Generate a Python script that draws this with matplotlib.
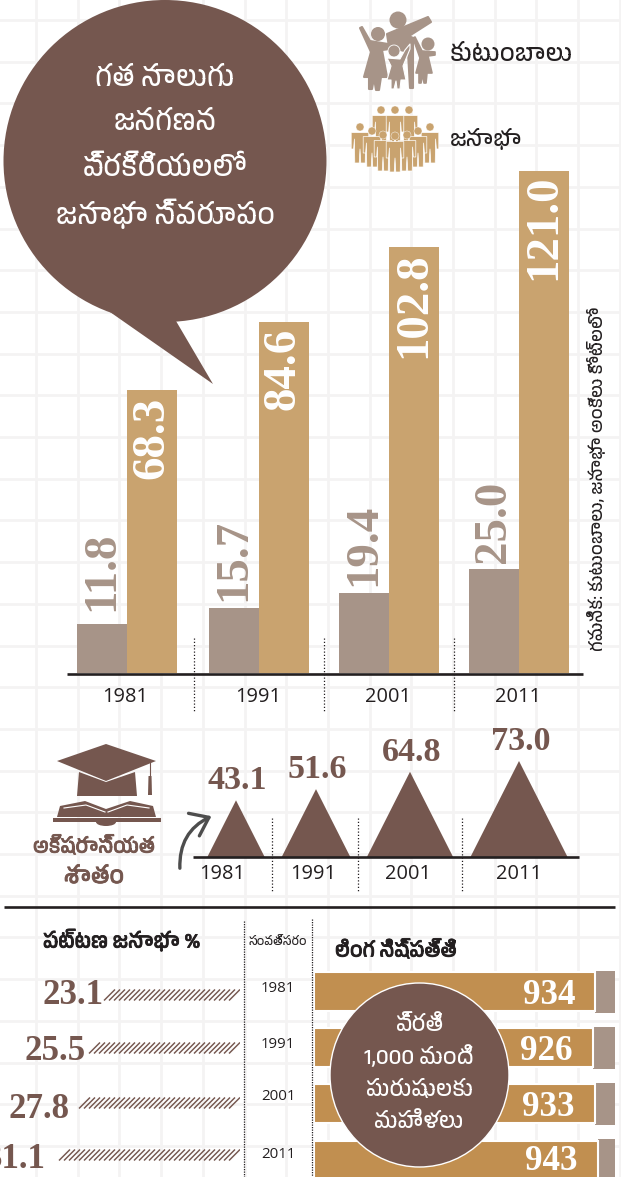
import matplotlib
matplotlib.use("Agg")
import matplotlib.pyplot as plt
import numpy as np
from matplotlib import font_manager
from matplotlib.patches import Circle, Ellipse, FancyArrowPatch, Polygon, Rectangle
from matplotlib.patheffects import withStroke

W, H = 621, 1177

# data
years = ["1981", "1991", "2001", "2011"]
families = [11.8, 15.7, 19.4, 25.0]
population = [68.3, 84.6, 102.8, 121.0]
literacy = [43.1, 51.6, 64.8, 73.0]
urban = [23.1, 25.5, 27.8, 31.1]
sex_ratio = [934, 926, 933, 943]

BROWN = "#75574f"
TAN = "#c9a36f"
TAN2 = "#c18f50"
GREY = "#a79488"
INK = "#231f20"
GRID = "#f4f3f3"

SERIF = "Liberation Serif"
# only some machines have a Telugu face, take it if there is one
telugu = [f.name for f in font_manager.fontManager.ttflist if "Telugu" in f.name]
SANS = telugu + ["Open Sans", "DejaVu Sans"]


def pt(px):
    return px * 0.72


def axes_px(fig, x0, y0, x1, y1, z):
    a = fig.add_axes([x0 / W, 1 - y1 / H, (x1 - x0) / W, (y1 - y0) / H], zorder=z)
    a.axis("off")
    a.patch.set_alpha(0)
    return a


fig = plt.figure(figsize=(W / 100, H / 100), dpi=100, facecolor="white")

bg = axes_px(fig, 0, 0, W, H, 0)
bg.set_xlim(0, W)
bg.set_ylim(H, 0)
for i in range(15):
    bg.axvline(36 + i * 41.7, color=GRID, lw=2)
for i in range(28):
    bg.axhline(20 + i * 41.7, color=GRID, lw=2)

# main bars, x in pixels
ax = axes_px(fig, 0, 171, W, 673, 1)
ax.set_xlim(0, W)
ax.set_ylim(0, 121.0)
fam_x = [102, 234, 364, 494]
pop_x = [152, 284, 414, 544]
fam_gap = [13, 7, 7, 6]
pop_gap = [7, 6, 6, 3]
ax.bar(fam_x, families, width=50, color=GREY)
ax.bar(pop_x, population, width=50, color=TAN)
for x, gap, v in zip(fam_x, fam_gap, families):
    ax.annotate(f"{v:.1f}", (x, v), xytext=(0, pt(gap)), textcoords="offset points", rotation=90,
                ha="center", va="bottom", family=SERIF, weight="bold", fontsize=pt(47), color=GREY)
for x, gap, v in zip(pop_x, pop_gap, population):
    ax.annotate(f"{v:.1f}", (x, v), xytext=(0, -pt(gap)), textcoords="offset points", rotation=90,
                ha="center", va="top", family=SERIF, weight="bold", fontsize=pt(47), color="white")

# literacy triangles
lit = axes_px(fig, 0, 700, W, 857, 1)
lit.set_xlim(0, W)
lit.set_ylim(0, 157 / 1.315)
lit_x = [236, 316, 410, 519]
for x, v in zip(lit_x, literacy):
    lit.fill([x - v * 0.665, x, x + v * 0.665], [0, v, 0], color=BROWN, lw=0)
    lit.annotate(f"{v:.1f}", (x, v), xytext=(1, pt(4)), textcoords="offset points", ha="center",
                 va="bottom", family=SERIF, weight="bold", fontsize=pt(34), color=BROWN)

# urban share, strokes run to the left from the dotted line
urb = axes_px(fig, 0, 960, 240, H, 1)
urb.set_xlim(240 / 5.92, 0)
urb.set_ylim(H, 960)
urb_y = [995, 1048, 1103, 1155]
urb_text_y = [996, 1052, 1109, 1160]
urb_gap = [0, 3, 6, 10]
slant = 11 / 5.92
for y, ty, gap, v in zip(urb_y, urb_text_y, urb_gap, urban):
    for x in np.arange(0, v - slant + 0.1, 5.0 / 5.92):
        urb.plot([x + slant, x], [y + 5.5, y - 5.5], color=BROWN, lw=1.05, solid_capstyle="butt")
    urb.annotate(f"{v:.1f}", (v, ty), xytext=(-pt(gap), 0), textcoords="offset points", ha="right",
                 va="center", family=SERIF, weight="bold", fontsize=pt(35), color=BROWN,
                 annotation_clip=False)

# sex ratio
sex = axes_px(fig, 314, 960, 615, H, 1)
sex.set_xlim(0, 1000)
sex.set_ylim(H, 960)
sex_y = [991.5, 1047.5, 1103.5, 1160]
sex_text_y = [995.5, 1051.5, 1107.5, 1162]
sex.barh(sex_y, [1000 - v for v in sex_ratio], left=sex_ratio, height=42, color=GREY)
sex.barh(sex_y, sex_ratio, height=39, color=TAN2, edgecolor="white", linewidth=1.5)
for y, v in zip(sex_text_y, sex_ratio):
    sex.annotate(str(v), (v, y), xytext=(-pt(20), 0), textcoords="offset points", ha="right",
                 va="center", family=SERIF, weight="bold", fontsize=pt(35), color="white")

# everything else is placed in picture pixels
d = axes_px(fig, 0, 0, W, H, 3)
d.set_xlim(0, W)
d.set_ylim(H, 0)


def label(x, y, s, size, color=INK, bold=False, **kw):
    kw.setdefault("ha", "center")
    kw.setdefault("va", "center")
    kw.setdefault("family", SANS)
    t = d.text(x, y, s, fontsize=pt(size), color=color, **kw)
    if bold:
        # the Telugu face has no bold cut here
        t.set_path_effects([withStroke(linewidth=0.6, foreground=color)])


def shape(pts, color, edge=None, lw=0.0):
    d.add_patch(Polygon(pts, facecolor=color, edgecolor=edge or color, lw=lw, joinstyle="round"))


def person(x, y, s, color):
    # y is the head centre, s the head radius
    d.add_patch(Circle((x, y), s, facecolor=color, edgecolor="white", lw=0.3))
    shape([(x - 2.2 * s, y + 1.4 * s), (x + 2.2 * s, y + 1.4 * s), (x + 2.2 * s, y + 5.5 * s),
           (x + 1.6 * s, y + 5.5 * s), (x + 1.4 * s, y + 3 * s), (x + 1.3 * s, y + 9 * s),
           (x + 0.2 * s, y + 9 * s), (x, y + 5.5 * s), (x - 0.2 * s, y + 9 * s),
           (x - 1.3 * s, y + 9 * s), (x - 1.4 * s, y + 3 * s), (x - 1.6 * s, y + 5.5 * s),
           (x - 2.2 * s, y + 5.5 * s)], color, "white", 0.5)


# speech bubble
d.add_patch(Ellipse((165, 161), 323, 322, color=BROWN, lw=0))
d.add_patch(Polygon([(110, 312), (176, 321), (213, 384)], color=BROWN, lw=0))
for y, s in zip([79, 123, 168, 214], ["గత నాలుగు", "జనగణన", "ప్రక్రియలలో", "జనాభా స్వరూపం"]):
    label(165, y, s, 28, "white")

# family icon
d.add_patch(Circle((398, 20), 8.5, color=GREY, lw=0))
shape([(387, 34), (428, 17), (431, 22), (409, 36), (413, 38), (413, 88), (410, 88), (408, 52), (389, 47)], GREY, GREY, 1.5)
d.add_patch(Circle((378, 34), 7, color=GREY, lw=0))
shape([(360, 28), (362, 27), (370, 41), (388, 44), (390, 49), (382, 50), (387, 77), (381, 77), (379, 90), (376, 90),
       (374, 78), (372, 89), (369, 89), (369, 77), (364, 77), (371, 52)], GREY, GREY, 1.5)
d.add_patch(Circle((394, 51), 6, facecolor=GREY, edgecolor="white", lw=0.6))
shape([(387, 58), (400, 59), (405, 50), (410, 44), (410, 49), (403, 66), (406, 80), (401, 80), (400, 89),
       (397, 89), (396, 81), (394, 89), (391, 89), (391, 80), (387, 80), (391, 66)], GREY, "white", 0.8)
d.add_patch(Circle((428, 44), 6.5, color=GREY, lw=0))
shape([(413, 38), (415, 37), (422, 51), (435, 52), (435, 55), (428, 56), (432, 73), (427, 73), (426, 83), (424, 83),
       (423, 74), (421, 83), (419, 83), (419, 73), (416, 73), (420, 58)], GREY, GREY, 1.2)
label(450, 55, "కుటుంబాలు", 24, ha="left")

# crowd icon, back row first
for x, y in [(381, 110), (409, 110), (395, 110), (360, 127), (430, 127), (372, 131), (418, 131),
             (383, 135), (407, 135), (395, 136)]:
    person(x, y, 4, TAN)
label(450, 139, "జనాభా", 22, ha="left")

# source note
label(597, 479, "గమనిక: కుటుంబాలు, జనాభా అంకెలు కోట్లలో", 17.5, rotation=90)

# main chart axis line, years, dividers
d.plot([67, 583], [674, 674], color=INK, lw=1.9, solid_capstyle="butt")
for x, s in zip([125, 258, 388, 518], years):
    label(x, 697, s, 20, family="Open Sans")
for x in [194, 324, 454]:
    d.plot([x, x], [638, 711], color=INK, lw=0.9, ls=(0, (1, 1.6)))

# graduation cap and book
d.add_patch(Polygon([(57, 761), (106, 744), (156, 761), (106, 781)], color=BROWN, lw=0))
d.add_patch(Polygon([(79, 772), (106, 782), (135, 772), (137, 796), (77, 796)], color=BROWN, lw=0))
d.plot([150, 150], [763, 785], color=BROWN, lw=0.8)
d.add_patch(Polygon([(148.5, 776), (151.5, 776), (152, 795), (148, 795)], color=BROWN, lw=0))
d.add_patch(Polygon([(60, 806), (85, 801), (106, 809), (130, 801), (153, 806), (156, 817), (57, 817)], color=BROWN, lw=0))
d.plot([64, 86, 105], [808, 805, 812], color="white", lw=0.8)
d.plot([149, 127, 108], [808, 805, 812], color="white", lw=0.8)
d.add_patch(Rectangle((53, 818), 108, 4, color=BROWN, lw=0))
d.add_patch(Ellipse((106, 822), 20, 8, color=BROWN, lw=0))
label(94, 846, "అక్షరాస్యత", 20, BROWN, bold=True)
label(94, 877, "శాతం", 23, BROWN, bold=True)

# hand drawn arrow
d.add_patch(FancyArrowPatch((180, 871), (214, 815), connectionstyle="arc3,rad=-0.35", arrowstyle="->,head_length=4,head_width=3",
                            color="#4d4d4d", lw=2.4, mutation_scale=3))

# literacy axis line, years, dividers
d.plot([193, 579], [857, 857], color=INK, lw=1.9, solid_capstyle="butt")
for x, s in zip([222, 313, 408, 519], years):
    label(x, 874, s, 20, family="Open Sans")
for x in [272, 358, 462]:
    d.plot([x, x], [818, 892], color=INK, lw=0.9, ls=(0, (1, 1.6)))

# rule
d.plot([4, 615], [907, 907], color=INK, lw=1.9, solid_capstyle="butt")

# lower panel
for x, y0 in [(244, 921), (312, 919)]:
    d.plot([x, x], [y0, H], color=INK, lw=0.9, ls=(0, (1, 1)))
label(43, 940, "పట్టణ జనాభా %", 20.5, ha="left", bold=True)
label(278, 942, "సంవత్సరం", 12)
label(335, 950, "లింగ నిష్పత్తి", 20, ha="left", bold=True)
for y, s in zip([989, 1044, 1097, 1155], years):
    label(278, y, s, 15, family="Open Sans")

# circle over the sex ratio bars
d.add_patch(Ellipse((419.5, 1075), 179, 184, facecolor=BROWN, edgecolor="white", lw=1))
for y, s in zip([1025, 1057, 1090, 1122], ["ప్రతి", "1,000 మంది", "పురుషులకు", "మహిళలు"]):
    label(419, y, s, 22, "white")

fig.savefig("out.png", dpi=100)
